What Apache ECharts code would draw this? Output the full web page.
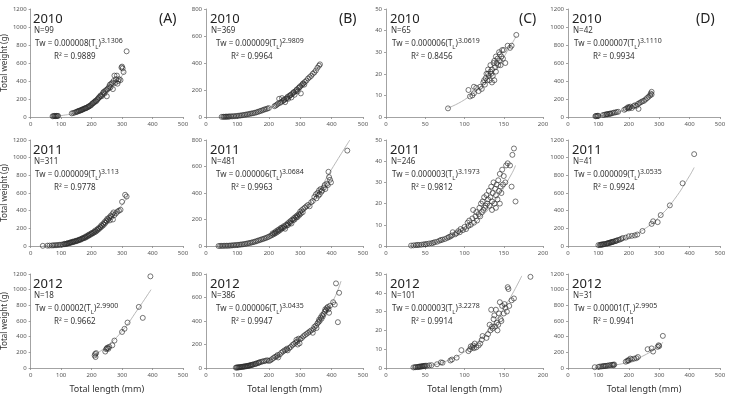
<!DOCTYPE html>
<html>
<head>
<meta charset="utf-8">
<script src="https://cdn.jsdelivr.net/npm/echarts@6/dist/echarts.min.js"></script>
<style>
html, body { margin: 0; padding: 0; background: #fff; }
#main { width: 730px; height: 395px; }
</style>
</head>
<body>
<div id="main"></div>
<script>
// 年份 / 面板标识
const years = ['2010', '2011', '2012'];
const panelTags = ['(A)', '(B)', '(C)', '(D)'];
const nCounts = [[99, 369, 65, 42], [311, 481, 246, 41], [18, 386, 101, 31]];
const coefs = [['0.000008', '0.000009', '0.000006', '0.000007'],
               ['0.000009', '0.000006', '0.000003', '0.000009'],
               ['0.00002', '0.000006', '0.000003', '0.00001']];
const expos = [['3.1306', '2.9809', '3.0619', '3.1110'],
               ['3.113', '3.0684', '3.1973', '3.0535'],
               ['2.9900', '3.0435', '3.2278', '2.9905']];
const r2s = [['0.9889', '0.9964', '0.8456', '0.9934'],
             ['0.9778', '0.9963', '0.9812', '0.9924'],
             ['0.9662', '0.9947', '0.9914', '0.9941']];

// 坐标轴范围
const xMax = [500, 500, 200, 500];
const xStep = [100, 100, 50, 100];
const yMax = [1200, 800, 50, 1200];
const yStep = [200, 200, 10, 200];

// 2010
const a2010 = [[72,8],[75,10],[78,12],[80,10],[83,9],[85,12],[88,11],[90,13],[135,40],[140,45],[145,50],[150,55],[152,60],[155,62],[158,68],[160,70],[163,72],[165,75],[168,80],[170,82],[172,88],[175,90],[178,95],[180,100],[182,98],[185,105],[188,110],[190,115],[192,120],[195,125],[198,130],[200,140],[203,150],[205,155],[208,160],[210,170],[213,180],[215,175],[218,190],[220,200],[223,210],[225,220],[228,230],[230,240],[233,230],[235,250],[238,270],[240,280],[242,260],[245,290],[248,300],[250,230],[252,310],[255,320],[258,340],[260,360],[262,330],[265,370],[268,380],[270,310],[272,400],[275,460],[278,380],[280,420],[283,460],[285,370],[288,400],[290,420],[295,410],[298,550],[300,560],[302,540],[305,500],[315,730]];
const a2010Fit = [[70,3],[100,15],[150,50],[200,128],[250,258],[280,370],[310,505]];
const b2010 = [[50,1],[55,2],[58,1],[62,2],[65,3],[68,2],[72,3],[75,4],[80,5],[85,5],[90,6],[95,7],[100,8],[105,10],[110,11],[115,13],[120,15],[125,17],[130,19],[135,21],[140,24],[145,26],[150,28],[155,31],[160,34],[165,38],[170,42],[175,46],[180,50],[185,55],[190,58],[195,62],[200,66],[218,80],[222,85],[226,92],[230,100],[233,135],[236,105],[240,112],[242,140],[245,118],[248,125],[250,130],[252,110],[255,135],[258,140],[260,150],[262,135],[265,155],[268,160],[270,165],[272,145],[275,172],[278,180],[280,185],[282,165],[285,190],[288,200],[290,205],[292,190],[295,215],[298,220],[300,228],[302,175],[305,235],[308,245],[310,250],[313,240],[315,260],[320,270],[325,285],[330,295],[335,305],[340,320],[345,330],[350,345],[355,365],[360,380],[363,390]];
const b2010Fit = [[50,1],[100,8],[150,28],[200,66],[250,127],[300,218],[365,390]];
const c2010 = [[79,4],[105,12.5],[107,9.5],[110,10],[112,11],[112,14],[115,13.5],[118,12],[120,14],[122,13],[124,16],[125,17],[126,15],[127,18],[128,20],[129,17],[130,20],[130,22],[131,19],[132,17],[133,21],[133,24],[134,20],[135,16],[135,22],[136,19],[137,25],[138,17],[138,26],[139,23],[140,28],[140,21],[141,25],[142,27],[143,24],[144,30],[145,26],[145,29],[146,24],[147,28],[148,31],[149,27],[150,31],[152,25],[155,33],[158,32],[160,33],[166,38]];
const c2010Fit = [[78,4],[100,8],[120,14],[140,22.4],[160,33.7],[166,37.6]];
const d2010 = [[90,8],[92,12],[95,10],[98,14],[100,12],[115,22],[120,25],[125,28],[128,32],[130,30],[135,35],[138,38],[140,36],[145,42],[150,48],[155,50],[160,55],[165,58],[185,80],[190,90],[195,100],[198,110],[200,95],[202,105],[205,115],[210,100],[215,120],[220,130],[225,125],[230,145],[232,90],[235,155],[240,165],[245,175],[250,180],[255,195],[260,210],[265,225],[270,240],[272,260],[275,280],[275,250]];
const d2010Fit = [[90,8],[100,11.7],[150,41],[200,101],[250,201],[275,271]];

// 2011
const a2011 = [[40,2],[55,4],[62,5],[70,6],[75,8],[80,8],[85,10],[90,11],[95,13],[100,15],[105,17],[110,20],[112,25],[115,22],[118,26],[120,28],[122,32],[125,30],[128,35],[130,38],[132,42],[135,40],[138,48],[140,45],[142,52],[145,50],[148,58],[150,55],[152,62],[155,60],[158,68],[160,70],[162,75],[165,72],[168,82],[170,85],[172,90],[175,88],[178,100],[180,95],[182,110],[185,105],[188,120],[190,115],[192,130],[195,125],[198,140],[200,135],[202,150],[205,145],[208,160],[210,155],[212,175],[215,165],[218,185],[220,180],[222,200],[225,195],[228,215],[230,210],[232,235],[235,225],[238,250],[240,240],[242,270],[245,260],[248,290],[250,280],[252,310],[255,300],[258,320],[260,290],[262,340],[265,330],[268,360],[270,300],[272,380],[275,350],[280,370],[285,390],[290,400],[295,410],[300,500],[310,580],[315,560]];
const a2011Fit = [[40,1],[100,15],[150,54],[200,131],[250,263],[300,464],[320,567]];
const b2011 = [[40,0],[45,1],[50,1],[55,1],[60,2],[65,2],[70,2],[75,3],[80,4],[85,5],[90,6],[95,7],[100,8],[105,9],[110,11],[115,12],[120,14],[125,16],[130,18],[135,21],[140,23],[145,26],[150,29],[155,32],[160,36],[165,40],[170,44],[175,48],[180,52],[185,56],[190,60],[195,65],[200,70],[205,76],[210,82],[212,95],[215,88],[218,100],[220,95],[222,110],[225,102],[228,118],[230,110],[232,125],[235,118],[238,135],[240,128],[242,140],[245,135],[248,150],[250,145],[252,130],[255,160],[258,155],[260,170],[262,160],[265,180],[268,175],[270,190],[272,170],[275,200],[278,195],[280,210],[282,200],[285,220],[288,215],[290,230],[292,220],[295,240],[298,235],[300,260],[302,245],[305,270],[308,255],[310,280],[315,290],[320,300],[325,310],[330,300],[335,330],[340,340],[345,370],[350,390],[352,360],[355,400],[358,380],[360,420],[362,390],[365,430],[368,410],[370,420],[375,440],[378,460],[380,430],[385,470],[388,460],[390,560],[392,520],[395,500],[398,480],[450,720]];
const b2011Fit = [[40,0.5],[100,8],[200,69],[300,240],[350,384],[400,579],[458,800]];
const c2011 = [[32,0.2],[35,0.3],[38,0.4],[40,0.5],[42,0.5],[45,0.6],[48,0.8],[50,0.8],[52,1],[55,1.2],[58,1.3],[60,1.5],[62,1.8],[65,2],[68,2.5],[70,2.8],[72,3],[75,3.3],[78,3.8],[80,4.2],[82,4.5],[84,5],[85,6.5],[88,5.5],[90,6],[92,7],[94,6.5],[95,8],[98,7.5],[100,9],[102,8],[104,11],[105,9.5],[106,12],[108,10],[110,13],[111,17],[112,11],[114,14],[115,16],[116,12],[118,15],[119,18],[120,14],[121,20],[122,16],[123,21],[124,17],[125,23],[126,18],[127,19],[128,24],[129,20],[130,22],[131,26],[132,19],[133,23],[134,28],[135,21],[136,25],[137,30],[138,20],[139,27],[140,24],[141,29],[142,22],[143,31],[144,26],[145,34],[146,28],[147,25],[148,36],[149,29],[150,33],[152,30],[153,38],[155,39],[158,38],[160,28],[161,43],[163,46],[165,21],[145,20],[140,18],[135,17]];
const c2011Fit = [[30,0.2],[50,0.8],[100,7.4],[120,13.3],[140,21.8],[160,34],[165,38]];
const d2011 = [[100,10],[105,12],[108,15],[110,14],[112,18],[115,17],[118,20],[120,22],[125,25],[128,28],[130,30],[133,32],[135,35],[138,38],[140,40],[143,42],[145,45],[148,48],[150,50],[155,55],[158,58],[160,62],[165,68],[170,72],[175,80],[180,90],[190,95],[200,110],[210,115],[220,120],[228,130],[245,170],[275,250],[280,280],[295,270],[305,350],[335,460],[377,710],[415,1040]];
const d2011Fit = [[100,11.5],[150,40],[200,96],[250,189],[300,330],[350,528],[400,795],[415,889]];

// 2012
const a2012 = [[210,160],[212,180],[213,140],[215,190],[245,210],[248,240],[250,250],[252,260],[255,245],[258,270],[268,290],[275,350],[300,460],[308,500],[318,580],[355,780],[368,640],[393,1170]];
const a2012Fit = [[210,165],[250,280],[300,470],[350,740],[395,1000]];
const b2012 = [[95,3],[98,4],[100,5],[103,5],[105,6],[108,7],[110,8],[113,9],[115,10],[118,11],[120,12],[123,13],[125,14],[128,15],[130,16],[133,18],[135,19],[138,21],[140,22],[143,24],[145,26],[148,28],[150,30],[155,33],[158,36],[160,38],[165,42],[168,45],[170,48],[175,52],[180,56],[185,58],[190,62],[195,66],[200,60],[205,65],[210,75],[215,85],[220,95],[225,100],[228,110],[230,90],[235,115],[240,130],[245,140],[250,150],[255,155],[258,165],[260,150],[265,170],[270,180],[275,195],[280,205],[285,215],[288,240],[290,225],[292,200],[295,250],[298,210],[300,245],[305,255],[310,270],[315,280],[320,290],[325,300],[330,310],[335,320],[340,300],[342,330],[345,350],[350,360],[352,340],[355,380],[358,390],[360,410],[362,400],[365,430],[368,420],[370,450],[372,440],[375,460],[378,480],[380,500],[382,490],[385,510],[388,520],[390,500],[392,470],[395,530],[405,560],[410,540],[414,720],[420,390],[424,640]];
const b2012Fit = [[95,4],[150,30],[200,62],[250,140],[300,245],[350,370],[400,550],[430,740]];
const c2012 = [[35,0.3],[37,0.4],[38,0.5],[40,0.5],[41,0.6],[42,0.7],[43,0.7],[44,0.8],[45,0.8],[46,0.9],[47,1],[48,1],[49,1.1],[50,1.2],[52,1.2],[55,1.4],[58,1.5],[65,2],[70,3],[72,2.8],[82,4],[84,4.5],[90,5.5],[96,9.5],[105,9],[107,10],[108,11.5],[110,11],[111,12],[112,10.5],[113,13],[115,11],[118,12],[120,13],[122,15],[123,17],[128,16],[130,18],[132,23],[133,20],[134,31],[135,22],[136,21],[137,26],[138,28],[139,22],[140,31],[141,24],[142,20],[143,23],[144,29],[145,35],[146,26],[147,25],[148,33],[150,29],[151,34],[152,32],[154,30],[155,43],[156,42],[157,33],[160,36],[163,37],[184,48.5]];
const c2012Fit = [[35,0.3],[50,0.9],[75,3.4],[100,8.6],[125,17.6],[150,31.7],[173,49]];
const d2012 = [[88,10],[100,14],[105,18],[110,20],[115,22],[118,25],[122,25],[125,28],[130,30],[135,34],[140,38],[145,40],[148,42],[150,35],[152,45],[190,80],[195,90],[198,100],[200,95],[205,120],[210,110],[218,120],[225,125],[230,140],[262,240],[275,250],[280,210],[295,270],[298,290],[300,280],[312,410]];
const d2012Fit = [[88,7],[100,10],[150,34],[200,80],[250,160],[300,280],[312,330]];

const points = [[a2010, b2010, c2010, d2010], [a2011, b2011, c2011, d2011], [a2012, b2012, c2012, d2012]];
const fits = [[a2010Fit, b2010Fit, c2010Fit, d2010Fit], [a2011Fit, b2011Fit, c2011Fit, d2011Fit], [a2012Fit, b2012Fit, c2012Fit, d2012Fit]];

// 布局
const colLeft = [29, 206, 386, 568];
const colWidth = [154, 157, 157, 152];
const rowTop = [9, 140, 274];
const rowHeight = [108, 106, 97];

const font = 'Noto Sans, sans-serif';
const axisColor = '#8c8c8c';

const option = { animation: false, grid: [], xAxis: [], yAxis: [], series: [], graphic: [] };

for (let r = 0; r < 3; r++) {
  for (let c = 0; c < 4; c++) {
    const i = r * 4 + c;
    const left = colLeft[c], top = rowTop[r];
    option.grid.push({ left: left, top: top, width: colWidth[c], height: rowHeight[r] });
    option.xAxis.push({
      gridIndex: i, type: 'value', min: 0, max: xMax[c], interval: xStep[c],
      axisLine: { lineStyle: { color: axisColor, width: 0.8 } },
      axisTick: { length: 2, lineStyle: { color: axisColor, width: 0.8 } },
      axisLabel: { fontSize: 6, color: '#555', margin: 4, fontFamily: font, formatter: v => String(v) },
      splitLine: { show: false },
      name: r === 2 ? 'Total length (mm)' : '',
      nameLocation: 'middle', nameGap: 17,
      nameTextStyle: { fontSize: 9, color: '#333', fontFamily: font }
    });
    option.yAxis.push({
      gridIndex: i, type: 'value', min: 0, max: yMax[c], interval: yStep[c],
      axisLine: { show: true, lineStyle: { color: axisColor, width: 0.8 } },
      axisTick: { show: true, length: 2, lineStyle: { color: axisColor, width: 0.8 } },
      axisLabel: { fontSize: 6, color: '#555', margin: 4, fontFamily: font, formatter: v => String(v) },
      splitLine: { show: false },
      name: c === 0 ? 'Total weight (g)' : '',
      nameLocation: 'middle', nameGap: 20,
      nameTextStyle: { fontSize: 8, color: '#333', fontFamily: font }
    });
    option.series.push({
      type: 'line', xAxisIndex: i, yAxisIndex: i, data: fits[r][c],
      smooth: true, showSymbol: false, silent: true,
      lineStyle: { color: '#a6a6a6', width: 0.8 }, z: 1
    });
    option.series.push({
      type: 'scatter', xAxisIndex: i, yAxisIndex: i, data: points[r][c],
      symbol: 'circle', symbolSize: 5,
      itemStyle: { color: 'rgba(255,255,255,0)', borderColor: '#2b2b2b', borderWidth: 0.8 }, z: 2
    });

    // 文字标注
    option.graphic.push({ type: 'text', left: left + 4, top: top + 4,
      style: { text: years[r], fontSize: 13, fontFamily: font, fill: '#222' } });
    option.graphic.push({ type: 'text', left: left + 5, top: top + 18,
      style: { text: 'N=' + nCounts[r][c], fontSize: 8, fontFamily: font, fill: '#333' } });
    option.graphic.push({ type: 'text', left: left + (c === 1 ? 10 : 6), top: top + 28,
      style: {
        text: '{m|Tw = ' + coefs[r][c] + '(T}{s|L}{m|)}{p|' + expos[r][c] + '}',
        fontFamily: font, fill: '#333',
        rich: {
          m: { fontSize: 8, lineHeight: 13, verticalAlign: 'middle', fontFamily: font, fill: '#333' },
          s: { fontSize: 6, lineHeight: 9, verticalAlign: 'bottom', fontFamily: font, fill: '#333' },
          p: { fontSize: 7, lineHeight: 7, verticalAlign: 'top', fontFamily: font, fill: '#333' }
        }
      } });
    option.graphic.push({ type: 'text', left: left + 25, top: top + 44,
      style: { text: 'R\u00b2 = ' + r2s[r][c], fontSize: 8, fontFamily: font, fill: '#333' } });
    if (r === 0) {
      option.graphic.push({ type: 'text', left: left + colWidth[c] - 24, top: top + 3,
        style: { text: panelTags[c], fontSize: 14, fontFamily: font, fill: '#222' } });
    }
  }
}

const myChart = echarts.init(document.getElementById('main'));
myChart.setOption(option);
</script>
</body>
</html>
